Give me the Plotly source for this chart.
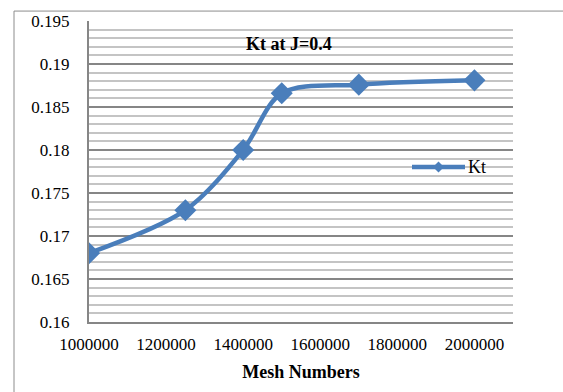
import plotly.graph_objects as go

mesh_numbers = [1000000, 1250000, 1400000, 1500000, 1700000, 2000000]
kt_values = [0.168, 0.173, 0.180, 0.1866, 0.1876, 0.1881]
y_tick_vals = [0.16, 0.165, 0.17, 0.175, 0.18, 0.185, 0.19, 0.195]
y_tick_text = ["0.16", "0.165", "0.17", "0.175", "0.18", "0.185", "0.19", "0.195"]
x_tick_vals = [1000000, 1200000, 1400000, 1600000, 1800000, 2000000]
x_tick_text = ["1000000", "1200000", "1400000", "1600000", "1800000", "2000000"]
series_name = "Kt"

W, H = 563, 392
L, R, T, B = 89, 50, 19, 70
pw, ph = W - L - R, H - T - B

def px_x(x):
    return (x - L) / pw

def px_y(y):
    return (H - B - y) / ph

BLUE = "#4A7EBB"
FONT = "Times New Roman"

fig = go.Figure()
fig.add_trace(go.Scatter(
    x=mesh_numbers, y=kt_values, name=series_name,
    mode="lines+markers",
    line=dict(color=BLUE, width=4.5, shape="spline", smoothing=0.9),
    marker=dict(symbol="diamond", size=17, color=BLUE),
    showlegend=False,
))

# legend drawn manually
lx0, lx1, ly = 412, 465, 166
cx, d = (lx0 + lx1) / 2, 5.5
shapes = [
    dict(type="rect", xref="paper", yref="paper",
         x0=px_x(14), x1=px_x(570), y0=px_y(400), y1=px_y(9),
         line=dict(color="#8C8C8C", width=1), layer="below"),
    dict(type="line", xref="paper", yref="paper",
         x0=px_x(lx0), x1=px_x(lx1), y0=px_y(ly), y1=px_y(ly),
         line=dict(color=BLUE, width=4.5)),
    dict(type="path", xref="paper", yref="paper",
         path=f"M {px_x(cx - d)} {px_y(ly)} L {px_x(cx)} {px_y(ly - d)} "
              f"L {px_x(cx + d)} {px_y(ly)} L {px_x(cx)} {px_y(ly + d)} Z",
         fillcolor=BLUE, line=dict(color=BLUE, width=0)),
]

fig.update_layout(
    width=W, height=H,
    margin=dict(l=L, r=R, t=T, b=B),
    paper_bgcolor="white", plot_bgcolor="white",
    font=dict(family=FONT, size=17, color="black"),
    showlegend=False,
    xaxis=dict(
        range=[1000000, 2100000],
        tickvals=x_tick_vals, ticktext=x_tick_text,
        showgrid=False, zeroline=False,
        showline=True, linecolor="#868686", linewidth=2,
        ticks="outside", ticklen=6, tickcolor="rgba(0,0,0,0)",
        tickfont=dict(size=17, family=FONT),
        title=dict(text="<b>Mesh Numbers</b>", font=dict(size=18, family=FONT), standoff=12),
    ),
    yaxis=dict(
        range=[0.16, 0.195],
        tickvals=y_tick_vals, ticktext=y_tick_text,
        showgrid=True, gridcolor="#868686", gridwidth=1.5,
        zeroline=False,
        showline=True, linecolor="#868686", linewidth=2,
        ticks="outside", ticklen=14, tickcolor="rgba(0,0,0,0)",
        tickfont=dict(size=17, family=FONT),
        minor=dict(dtick=0.001, showgrid=True, gridcolor="#C4C4C4", gridwidth=1.5),
    ),
    shapes=shapes,
    annotations=[
        dict(text="<b>Kt at J=0.4</b>", xref="paper", yref="paper",
             x=px_x(289), y=px_y(42), showarrow=False,
             xanchor="center", yanchor="middle",
             font=dict(size=18, family=FONT, color="black")),
        dict(text=series_name, xref="paper", yref="paper",
             x=px_x(lx1 + 1), y=px_y(ly), showarrow=False,
             xanchor="left", yanchor="middle",
             font=dict(size=18, family=FONT, color="black")),
    ],
)

fig.write_html("out.html")
